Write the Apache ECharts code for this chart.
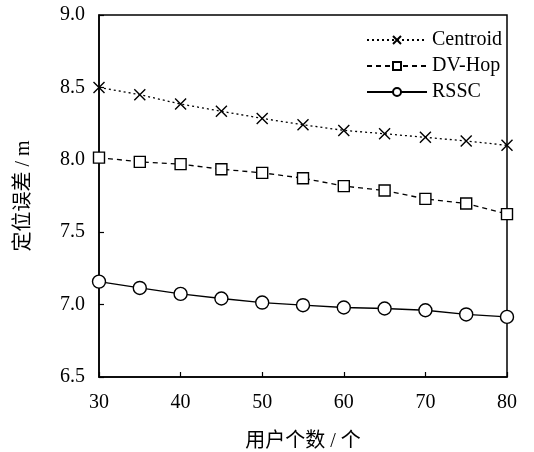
<!DOCTYPE html>
<html><head><meta charset="utf-8">
<script src="https://cdn.jsdelivr.net/npm/echarts@6/dist/echarts.min.js"></script>
<style>html,body{margin:0;padding:0;background:#fff}#c{width:534px;height:452px}</style>
</head><body><div id="c"></div>
<script>
var users = [30, 35, 40, 45, 50, 55, 60, 65, 70, 75, 80];
var centroid = [8.50, 8.45, 8.385, 8.335, 8.286, 8.242, 8.203, 8.18, 8.155, 8.13, 8.10];
var dvhop = [8.015, 7.986, 7.97, 7.935, 7.91, 7.873, 7.818, 7.788, 7.73, 7.698, 7.625];
var rssc = [7.159, 7.115, 7.074, 7.042, 7.014, 6.996, 6.98, 6.973, 6.961, 6.932, 6.915];
var seriesNames = ['Centroid', 'DV-Hop', 'RSSC'];
var xName = '用户个数 / 个';
var yName = '定位误差 / m';

function pairs(v){ return users.map(function(u,i){ return [u, v[i]]; }); }
var font = 'Liberation Serif';
var nameFont = '"Liberation Serif", "Noto Sans CJK SC"';
var chart = echarts.init(document.getElementById('c'));
chart.setOption({
  animation: false,
  backgroundColor: '#fff',
  grid: {left: 99, right: 27, top: 15, bottom: 75, outerBoundsMode: 'none', containLabel: false, show: true, borderColor: '#000', borderWidth: 1.5, backgroundColor: 'transparent'},
  legend: {
    orient: 'vertical', right: 32, top: 30, padding: 0, itemWidth: 60, itemHeight: 10, itemGap: 6,
    textStyle: {fontFamily: font, fontSize: 20, color: '#000'},
    data: seriesNames
  },
  xAxis: {
    type: 'value', min: 30, max: 80, interval: 10,
    name: xName, nameLocation: 'middle', nameGap: 55,
    nameTextStyle: {fontFamily: nameFont, fontSize: 20, color: '#000'},
    axisLine: {lineStyle: {color: '#000', width: 1.5}},
    axisTick: {inside: true, length: 5, lineStyle: {color: '#000', width: 1.2}},
    axisLabel: {fontFamily: font, fontSize: 20, color: '#000', margin: 16},
    splitLine: {show: false}
  },
  yAxis: {
    type: 'value', min: 6.5, max: 9.0, interval: 0.5,
    name: yName, nameLocation: 'middle', nameGap: 65, nameRotate: 90,
    nameTextStyle: {fontFamily: nameFont, fontSize: 20, color: '#000'},
    axisLine: {lineStyle: {color: '#000', width: 1.5}},
    axisTick: {inside: true, length: 5, lineStyle: {color: '#000', width: 1.2}},
    axisLabel: {fontFamily: font, fontSize: 20, color: '#000', margin: 14, formatter: function(v){ return v.toFixed(1); }},
    splitLine: {show: false}
  },
  series: [
    {name: seriesNames[0], type: 'line', data: pairs(centroid),
     symbol: 'path://M0,0L10,10M10,0L0,10', symbolSize: 11,
     lineStyle: {color: '#000', width: 1.3, type: [2, 3]},
     itemStyle: {color: 'none', borderColor: '#000', borderWidth: 1.4}},
    {name: seriesNames[1], type: 'line', data: pairs(dvhop),
     symbol: 'rect', symbolSize: 11,
     lineStyle: {color: '#000', width: 1.3, type: [5, 4]},
     itemStyle: {color: '#fff', borderColor: '#000', borderWidth: 1.4}},
    {name: seriesNames[2], type: 'line', data: pairs(rssc),
     symbol: 'circle', symbolSize: 13,
     lineStyle: {color: '#000', width: 1.3, type: 'solid'},
     itemStyle: {color: '#fff', borderColor: '#000', borderWidth: 1.4}}
  ]
});
</script></body></html>
